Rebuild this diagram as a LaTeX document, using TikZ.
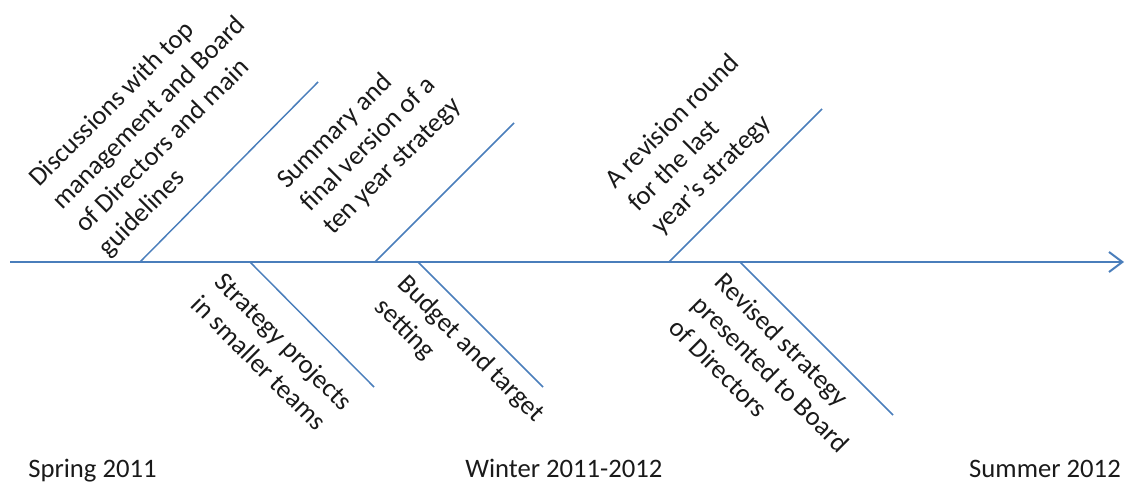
\documentclass[tikz,border=0pt]{standalone}
\usepackage{fontspec}
\setmainfont{Carlito}
\usetikzlibrary{arrows.meta,positioning}
\definecolor{axisblue}{HTML}{4A7EBB}
\definecolor{labelgray}{HTML}{1A1A1A}

\begin{document}
\begin{tikzpicture}[x=0.75pt,y=-0.75pt]
	\tikzstyle{every node}=[font=\fontsize{20}{24.5}\selectfont, text=labelgray, inner sep=0pt]
	\tikzstyle{branch}=[line width=1.1pt, draw=axisblue]
	\tikzstyle{upper}=[rotate=45, align=left, anchor=north west]
	\tikzstyle{lower}=[rotate=-45, align=left, anchor=north west]
	\useasboundingbox (0,0) rectangle (1126,485);
	% time axis
	\coordinate (start) at (10,262);
	\coordinate (finish) at (1124,262);
	\draw [line width=1.5pt, draw=axisblue, ->, >={Straight Barb[length=10pt,width=15pt]}] (start) -- (finish);
	% branches
	\coordinate (b1) at (140,262);
	\coordinate (t1) at (318,82);
	\coordinate (b2) at (375,262);
	\coordinate (t2) at (514,123);
	\coordinate (b3) at (669,262);
	\coordinate (t3) at (822,109);
	\coordinate (b4) at (250,262);
	\coordinate (t4) at (374,387);
	\coordinate (b5) at (418,262);
	\coordinate (t5) at (543,387);
	\coordinate (b6) at (740,262);
	\coordinate (t6) at (893,415);
	\foreach \i in {1,...,6}
		\draw [branch] (b\i) -- (t\i);
	% labels
	\node [upper] (discuss) at (25.7,174.7) {Discussions with top\\management and Board\\of Directors and main\\guidelines};
	\node [upper] (summary) at (273.7,176.7) {Summary and\\final version of a\\ten year strategy};
	\node [upper] (revision) at (601.7,176.7) {A revision round\\for the last\\year’s strategy};
	\node [lower] (projects) at (226,270) {Strategy projects\\in smaller teams};
	\node [lower] (budget) at (410,272) {Budget and target\\setting};
	\node [lower] (revised) at (727,270) {Revised strategy\\presented to Board\\of Directors};
	% seasons
	\node [anchor=base west] (spring) at (28,477) {Spring 2011};
	\node [anchor=base west] (winter) at (465,477) {Winter 2011-2012};
	\node [anchor=base east] (summer) at (1121,477) {Summer 2012};
\end{tikzpicture}
\end{document}
